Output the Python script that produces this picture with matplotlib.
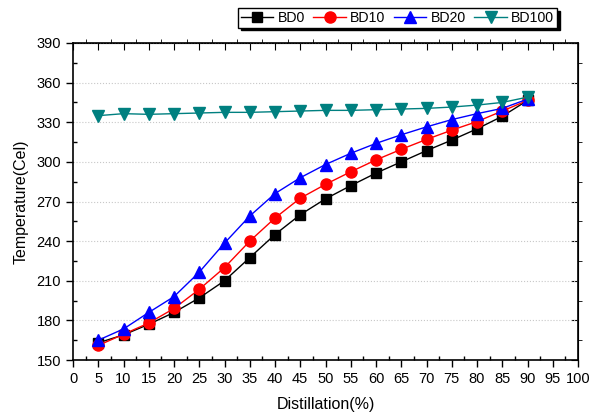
import matplotlib
matplotlib.use('Agg')
import matplotlib.pyplot as plt
from matplotlib.ticker import MultipleLocator

plt.rcParams['font.family'] = ['Liberation Sans', 'DejaVu Sans']

# Distillation fraction (%)
distill = [5, 10, 15, 20, 25, 30, 35, 40, 45, 50, 55, 60, 65, 70, 75, 80, 85, 90]

# Temperature (Cel) for each blend
bd0 = [163, 169, 177, 186, 197, 210, 227.5, 245, 260, 272, 282, 291.5, 300, 308.5, 316.5, 325, 334.5, 346.5]
bd10 = [161, 169.5, 178, 189, 203.5, 220, 240, 257.5, 272.5, 283, 292.5, 301.5, 309.5, 317, 324, 330.5, 338.5, 346.5]
bd20 = [165, 173.5, 186, 198, 216.5, 238.5, 259, 276, 288, 298, 306.5, 314, 320.5, 326.5, 332, 336.5, 340.5, 347.5]
bd100 = [335, 336.5, 336, 336.5, 337, 337.5, 337.5, 338, 338.5, 339, 339, 339.5, 340, 340.5, 341.5, 343, 345, 349]

fig = plt.figure(figsize=(5.99, 4.18), dpi=100)
ax = fig.add_axes([73/599, 1-360/418, (578-73)/599, (360-43)/418])

ax.plot(distill, bd0, color='black', marker='s', markersize=7, lw=1, label='BD0')
ax.plot(distill, bd10, color='red', marker='o', markersize=8, lw=1, label='BD10')
ax.plot(distill, bd20, color='blue', marker='^', markersize=8, lw=1, label='BD20')
ax.plot(distill, bd100, color='#008080', marker='v', markersize=8, lw=1, label='BD100')

ax.set_xlim(0, 100)
ax.set_ylim(150, 390)
ax.xaxis.set_major_locator(MultipleLocator(5))
ax.xaxis.set_minor_locator(MultipleLocator(2.5))
ax.yaxis.set_major_locator(MultipleLocator(30))
ax.yaxis.set_minor_locator(MultipleLocator(15))
ax.tick_params(which='major', direction='out', length=5, width=1, labelsize=10.5)
ax.tick_params(which='minor', direction='in', length=3, width=1)

# mirrored ticks on top and right, pointing inward
top = ax.secondary_xaxis('top')
top.xaxis.set_major_locator(MultipleLocator(5))
top.xaxis.set_minor_locator(MultipleLocator(2.5))
top.tick_params(which='major', direction='in', length=5, labeltop=False)
top.tick_params(which='minor', direction='out', length=3)
right = ax.secondary_yaxis('right')
right.yaxis.set_major_locator(MultipleLocator(30))
right.yaxis.set_minor_locator(MultipleLocator(15))
right.tick_params(which='major', direction='in', length=5, labelright=False)
right.tick_params(which='minor', direction='out', length=3)

for s in ax.spines.values():
    s.set_linewidth(1.2)

ax.yaxis.grid(True, linestyle=':', color='#c8c8c8', lw=0.8)
ax.set_axisbelow(True)

ax.set_xlabel('Distillation(%)', fontsize=11.5, labelpad=8)
ax.set_ylabel('Temperature(Cel)', fontsize=11.5, labelpad=6)

fig.legend(loc='upper right', bbox_to_anchor=(557/599, 1-8/418), ncol=4,
           fontsize=10.2, frameon=True, fancybox=False, edgecolor='black',
           shadow={'color': 'black', 'alpha': 1}, handlelength=2.3,
           handletextpad=0.3, columnspacing=0.6, borderpad=0.2, borderaxespad=0)

fig.savefig('out.png', dpi=100)
